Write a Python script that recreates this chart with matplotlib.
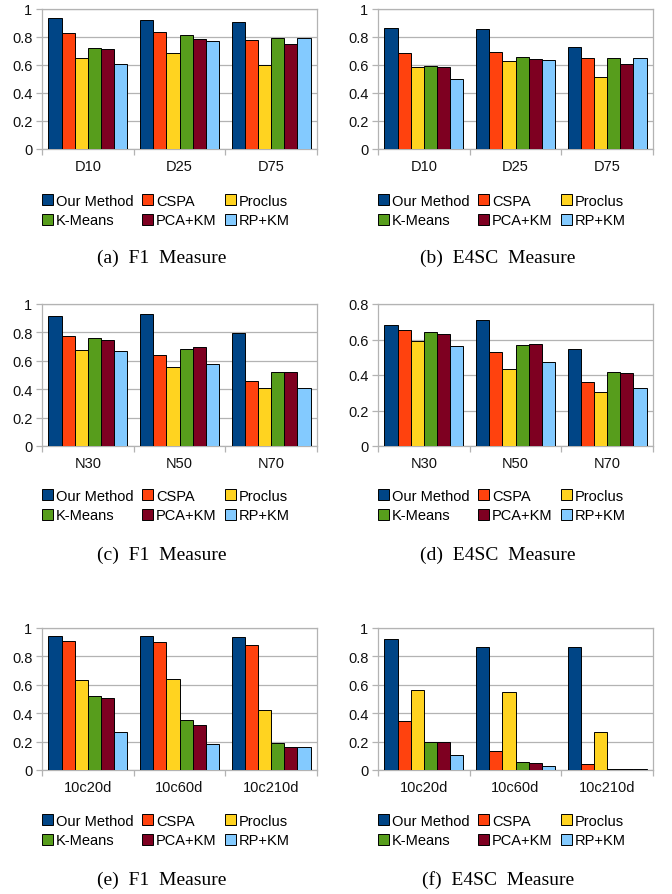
import matplotlib
matplotlib.use("Agg")
import matplotlib.pyplot as plt
import numpy as np

METHODS = ["Our Method", "CSPA", "Proclus", "K-Means", "PCA+KM", "RP+KM"]
COLORS = ["#004586", "#ff420e", "#ffd320", "#579d1c", "#7e0021", "#83caff"]

# (a) F1 / (b) E4SC on D-datasets
d_groups = ["D10", "D25", "D75"]
a_f1 = [
    [0.936, 0.924, 0.910],
    [0.831, 0.838, 0.781],
    [0.650, 0.686, 0.602],
    [0.721, 0.812, 0.790],
    [0.717, 0.786, 0.750],
    [0.605, 0.774, 0.790],
]
b_e4sc = [
    [0.864, 0.855, 0.729],
    [0.683, 0.693, 0.648],
    [0.588, 0.631, 0.514],
    [0.590, 0.660, 0.648],
    [0.583, 0.643, 0.610],
    [0.498, 0.633, 0.648],
]

# (c) F1 / (d) E4SC on N-datasets
n_groups = ["N30", "N50", "N70"]
c_f1 = [
    [0.915, 0.927, 0.793],
    [0.776, 0.638, 0.461],
    [0.678, 0.558, 0.409],
    [0.758, 0.685, 0.520],
    [0.746, 0.694, 0.518],
    [0.671, 0.574, 0.409],
]
d_e4sc = [
    [0.682, 0.708, 0.546],
    [0.653, 0.527, 0.360],
    [0.591, 0.433, 0.305],
    [0.640, 0.571, 0.416],
    [0.629, 0.574, 0.412],
    [0.565, 0.476, 0.328],
]

# (e) F1 / (f) E4SC on high-dimensional datasets
h_groups = ["10c20d", "10c60d", "10c210d"]
e_f1 = [
    [0.946, 0.946, 0.939],
    [0.906, 0.902, 0.878],
    [0.632, 0.642, 0.426],
    [0.522, 0.354, 0.192],
    [0.510, 0.314, 0.162],
    [0.265, 0.185, 0.162],
]
f_e4sc = [
    [0.920, 0.869, 0.864],
    [0.344, 0.136, 0.040],
    [0.562, 0.546, 0.269],
    [0.199, 0.056, 0.009],
    [0.194, 0.049, 0.009],
    [0.105, 0.030, 0.009],
]

PANELS = [
    (d_groups, a_f1, 1.0, "(a)  F1  Measure"),
    (d_groups, b_e4sc, 1.0, "(b)  E4SC  Measure"),
    (n_groups, c_f1, 1.0, "(c)  F1  Measure"),
    (n_groups, d_e4sc, 0.8, "(d)  E4SC  Measure"),
    (h_groups, e_f1, 1.0, "(e)  F1  Measure"),
    (h_groups, f_e4sc, 1.0, "(f)  E4SC  Measure"),
]

W, H = 672, 895
GRID = "#b3b3b3"
SANS = ["Liberation Sans", "DejaVu Sans"]
SERIF = ["Liberation Serif", "DejaVu Serif"]

# axes boxes in pixels: (top, bottom) per row, (left, right) per column
ROWS = [(10, 150), (305, 447), (629, 771)]
COLS = [(42, 317), (378, 653)]
LEGEND_Y = [202, 497, 822]
CAPTION_Y = [258, 555, 880]

fig = plt.figure(figsize=(W / 100, H / 100), dpi=100, facecolor="white")

for i, (groups, vals, ymax, caption) in enumerate(PANELS):
    r, c = divmod(i, 2)
    top, bot = ROWS[r]
    lft, rgt = COLS[c]
    ax = fig.add_axes([lft / W, 1 - bot / H, (rgt - lft) / W, (bot - top) / H])

    n = len(METHODS)
    bw = 0.86 / n
    x = np.arange(len(groups))
    for k, (name, col) in enumerate(zip(METHODS, COLORS)):
        ax.bar(x - 0.43 + bw * (k + 0.5), vals[k], width=bw, color=col,
               edgecolor="black", linewidth=0.7, label=name, zorder=3)

    ax.set_xlim(-0.5, len(groups) - 0.5)
    ax.set_ylim(0, ymax)
    yt = np.arange(0, ymax + 0.001, 0.2)
    ax.set_yticks(yt)
    ax.set_yticklabels([f"{v:g}" for v in yt])
    ax.yaxis.grid(True, color=GRID, linewidth=0.9, zorder=0)
    ax.set_axisbelow(True)

    # category labels centred, tick marks on the boundaries
    ax.set_xticks(x)
    ax.set_xticklabels(groups)
    ax.set_xticks(np.arange(-0.5, len(groups)), minor=True)
    ax.tick_params(axis="x", which="major", length=0, pad=7)
    ax.tick_params(axis="x", which="minor", length=4, color=GRID, width=0.9)
    ax.tick_params(axis="y", length=4, color=GRID, width=0.9, pad=3)
    for lab in ax.get_xticklabels() + ax.get_yticklabels():
        lab.set_fontfamily(SANS)
        lab.set_fontsize(10.5)
        lab.set_color("#111111")
    for sp in ax.spines.values():
        sp.set_color(GRID)
        sp.set_linewidth(0.9)

    # legend: two rows of three
    handles, labels = ax.get_legend_handles_labels()
    order = [0, 3, 1, 4, 2, 5]
    fig.legend([handles[j] for j in order], [labels[j] for j in order],
               ncol=3, loc="center left",
               bbox_to_anchor=((lft - 6) / W, 1 - (LEGEND_Y[r] + 9.5) / H),
               frameon=False, prop={"family": SANS, "size": 10.5},
               handlelength=0.75, handleheight=0.75, handletextpad=0.2,
               columnspacing=0.6, labelspacing=0.38, borderaxespad=0)

    fig.text((lft + 120) / W, 1 - CAPTION_Y[r] / H, caption, ha="center",
             va="center", family=SERIF, fontsize=14)

fig.savefig("out.png", dpi=100, facecolor="white")
